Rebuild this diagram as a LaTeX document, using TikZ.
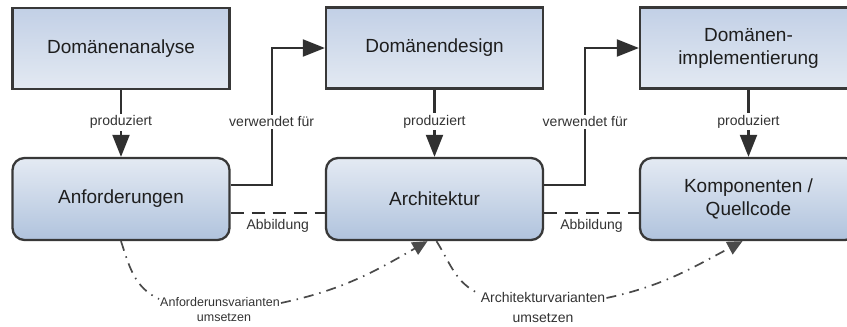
\documentclass[tikz,border=0pt]{standalone}
\usepackage{fontspec}
\setmainfont{Liberation Sans}
\usetikzlibrary{arrows.meta}

\definecolor{boxline}{HTML}{383838}
\definecolor{edgec}{HTML}{303030}
\definecolor{varyc}{HTML}{4A4A4A}
\definecolor{textc}{HTML}{1E1E1E}
\definecolor{lblc}{HTML}{333333}
\definecolor{phaseTop}{HTML}{C2D0E6}
\definecolor{phaseBot}{HTML}{E3E9F2}
\definecolor{prodTop}{HTML}{E4EAF3}
\definecolor{prodBot}{HTML}{B0C3DD}

\tikzset{
  phase/.style={draw=boxline, line width=2.3pt, minimum width=217pt,
    minimum height=81pt, inner sep=0pt, top color=phaseTop,
    bottom color=phaseBot, align=center, text=textc,
    font=\fontsize{19}{23}\selectfont},
  product/.style={phase, rounded corners=12pt, minimum height=82pt,
    top color=prodTop, bottom color=prodBot},
  lbl/.style={fill=white, inner sep=2pt, text=lblc,
    font=\fontsize{14}{16}\selectfont},
  plainlbl/.style={inner sep=1pt, text=lblc,
    font=\fontsize{14}{16}\selectfont},
  flow/.style={draw=edgec, line width=2.2pt,
    -{Triangle[length=22pt,width=17pt]}},
  map/.style={draw=edgec, line width=2.4pt, dash pattern=on 13pt off 8pt},
  varyline/.style={draw=varyc, line width=1.7pt,
    dash pattern=on 10pt off 6pt on 1.5pt off 6pt},
  vary/.style={varyline, -{Triangle[length=15pt,width=14pt]}},
}

\begin{document}
\begin{tikzpicture}[x=1pt,y=-1pt]
\useasboundingbox (0,0) rectangle (847,327);
\clip (0,0) rectangle (847,327);

% engineering phases
\node[phase] (ana) at (121,48.5) {Domänenanalyse};
\node[phase] (des) at (434.5,48) {Domänendesign};
\node[phase] (imp) at (748.5,48) {Domänen-\\implementierung};

% resulting artefacts
\node[product] (anf) at (121,199) {Anforderungen};
\node[product] (arc) at (434.5,199) {Architektur};
\node[product] (kom) at (748.5,199) {Komponenten /\\Quellcode};

% produziert
\draw[flow] (ana.south) -- (anf.north) node[lbl, pos=0.48] {produziert};
\draw[flow] (des.south) -- (arc.north) node[lbl, pos=0.48] {produziert};
\draw[flow] (imp.south) -- (kom.north) node[lbl, pos=0.48] {produziert};

% verwendet fuer
\draw[flow] ([yshift=14pt]anf.east) -- ++(41,0) |- (des.west)
  node[lbl, pos=0.23] {verwendet für};
\draw[flow] ([yshift=14pt]arc.east) -- ++(41,0) |- (imp.west)
  node[lbl, pos=0.23] {verwendet für};

% Abbildung
\draw[map] ([yshift=-14pt]anf.east) -- ([yshift=-14pt]arc.west)
  node[plainlbl, midway, below=4pt] {Abbildung};
\draw[map] ([yshift=-14pt]arc.east) -- ([yshift=-14pt]kom.west)
  node[plainlbl, midway, below=4pt] {Abbildung};

% Varianten umsetzen
\node[plainlbl, font=\fontsize{12.5}{14}\selectfont] (va1) at (220,302) {Anforderunsvarianten};
\node[plainlbl, font=\fontsize{12.5}{14}\selectfont] (va1b) at (224,318) {umsetzen};
\draw[varyline] (anf.south) to[out=-72, in=155] ([yshift=3pt]va1.west);
\draw[vary] ([yshift=-1pt]va1.east) to[out=12, in=-150] ([xshift=-7pt]arc.south);

\node[plainlbl] (va2) at (543,297) {Architekturvarianten};
\node[plainlbl] (va2b) at (543,318) {umsetzen};
\draw[varyline] ([xshift=2pt]arc.south) to[out=-58, in=155] ([yshift=3pt]va2.west);
\draw[vary] ([yshift=-1pt]va2.east) to[out=12, in=-152] ([xshift=-6pt]kom.south);
\end{tikzpicture}
\end{document}
